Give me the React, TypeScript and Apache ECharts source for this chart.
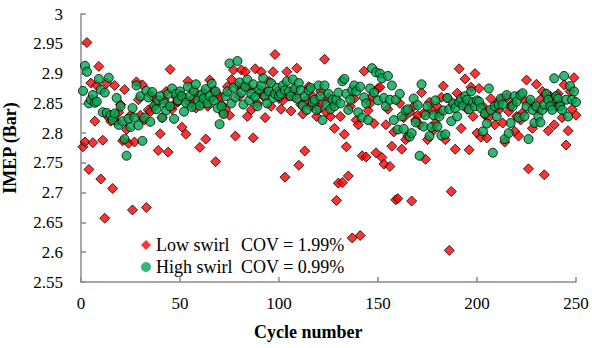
import React, { useEffect, useRef } from "react";
import * as echarts from "echarts";

const xTicks = [0, 50, 100, 150, 200, 250];
const yTicks = [2.55, 2.6, 2.65, 2.7, 2.75, 2.8, 2.85, 2.9, 2.95, 3];

const seriesNames = ["Low swirl", "High swirl"];
const covLabels = ["COV = 1.99%", "COV = 0.99%"];

// Low swirl IMEP, cycles 1..250
const lowSwirl = [
  2.777, 2.785, 2.952, 2.739, 2.884, 2.784, 2.820, 2.880, 2.912, 2.723,
  2.788, 2.657, 2.884, 2.826, 2.820, 2.707, 2.880, 2.820, 2.835, 2.848,
  2.787, 2.873, 2.806, 2.783, 2.830, 2.671, 2.785, 2.886, 2.856, 2.830,
  2.881, 2.822, 2.675, 2.839, 2.836, 2.862, 2.845, 2.850, 2.771, 2.799,
  2.826, 2.856, 2.870, 2.768, 2.907, 2.840, 2.848, 2.860, 2.852, 2.865,
  2.810, 2.860, 2.798, 2.887, 2.850, 2.856, 2.870, 2.842, 2.862, 2.776,
  2.850, 2.868, 2.790, 2.845, 2.889, 2.858, 2.872, 2.752, 2.865, 2.862,
  2.848, 2.833, 2.840, 2.878, 2.830, 2.890, 2.906, 2.795, 2.880, 2.862,
  2.906, 2.880, 2.903, 2.828, 2.875, 2.839, 2.792, 2.908, 2.850, 2.868,
  2.903, 2.862, 2.826, 2.870, 2.887, 2.845, 2.903, 2.932, 2.870, 2.858,
  2.840, 2.855, 2.726, 2.903, 2.862, 2.837, 2.872, 2.860, 2.909, 2.746,
  2.848, 2.832, 2.770, 2.856, 2.878, 2.845, 2.862, 2.850, 2.828, 2.840,
  2.870, 2.852, 2.924, 2.835, 2.860, 2.828, 2.846, 2.808, 2.687, 2.716,
  2.828, 2.717, 2.798, 2.777, 2.728, 2.845, 2.624, 2.858, 2.822, 2.814,
  2.628, 2.762, 2.904, 2.760, 2.838, 2.850, 2.862, 2.816, 2.767, 2.875,
  2.877, 2.759, 2.748, 2.814, 2.840, 2.744, 2.778, 2.802, 2.688, 2.690,
  2.850, 2.773, 2.826, 2.789, 2.795, 2.835, 2.686, 2.845, 2.822, 2.830,
  2.814, 2.868, 2.833, 2.756, 2.789, 2.852, 2.839, 2.805, 2.817, 2.845,
  2.834, 2.860, 2.879, 2.789, 2.859, 2.603, 2.702, 2.848, 2.773, 2.867,
  2.908, 2.808, 2.850, 2.891, 2.840, 2.772, 2.877, 2.828, 2.900, 2.800,
  2.875, 2.793, 2.845, 2.830, 2.792, 2.826, 2.858, 2.840, 2.814, 2.850,
  2.839, 2.856, 2.817, 2.785, 2.860, 2.836, 2.845, 2.850, 2.803, 2.828,
  2.795, 2.822, 2.834, 2.855, 2.889, 2.740, 2.850, 2.808, 2.845, 2.882,
  2.839, 2.856, 2.870, 2.730, 2.866, 2.804, 2.862, 2.856, 2.814, 2.845,
  2.866, 2.850, 2.826, 2.881, 2.780, 2.804, 2.870, 2.840, 2.893, 2.830,
];

// High swirl IMEP, cycles 1..250
const highSwirl = [
  2.871, 2.913, 2.903, 2.850, 2.856, 2.864, 2.851, 2.853, 2.891, 2.873,
  2.835, 2.868, 2.834, 2.893, 2.830, 2.822, 2.833, 2.859, 2.814, 2.845,
  2.820, 2.790, 2.762, 2.824, 2.810, 2.842, 2.826, 2.880, 2.813, 2.862,
  2.787, 2.826, 2.871, 2.860, 2.819, 2.869, 2.846, 2.840, 2.855, 2.862,
  2.826, 2.850, 2.838, 2.866, 2.845, 2.875, 2.824, 2.866, 2.855, 2.870,
  2.862, 2.836, 2.851, 2.878, 2.862, 2.844, 2.871, 2.882, 2.855, 2.846,
  2.865, 2.858, 2.874, 2.850, 2.862, 2.883, 2.855, 2.870, 2.842, 2.815,
  2.845, 2.832, 2.862, 2.870, 2.917, 2.850, 2.876, 2.860, 2.921, 2.885,
  2.868, 2.848, 2.878, 2.890, 2.855, 2.866, 2.882, 2.861, 2.845, 2.873,
  2.880, 2.892, 2.862, 2.850, 2.870, 2.884, 2.859, 2.866, 2.876, 2.862,
  2.866, 2.880, 2.872, 2.887, 2.870, 2.862, 2.890, 2.875, 2.858, 2.884,
  2.872, 2.846, 2.862, 2.839, 2.872, 2.876, 2.852, 2.856, 2.839, 2.880,
  2.862, 2.822, 2.880, 2.848, 2.866, 2.840, 2.856, 2.845, 2.856, 2.868,
  2.850, 2.887, 2.891, 2.866, 2.839, 2.856, 2.872, 2.880, 2.870, 2.835,
  2.878, 2.826, 2.860, 2.850, 2.822, 2.875, 2.909, 2.868, 2.902, 2.855,
  2.900, 2.892, 2.859, 2.845, 2.896, 2.856, 2.880, 2.822, 2.856, 2.806,
  2.866, 2.828, 2.807, 2.838, 2.840, 2.794, 2.800, 2.858, 2.818, 2.847,
  2.762, 2.882, 2.811, 2.830, 2.845, 2.795, 2.810, 2.830, 2.855, 2.811,
  2.828, 2.796, 2.838, 2.798, 2.859, 2.840, 2.820, 2.850, 2.842, 2.828,
  2.852, 2.858, 2.846, 2.862, 2.856, 2.840, 2.870, 2.852, 2.845, 2.855,
  2.853, 2.842, 2.803, 2.833, 2.816, 2.875, 2.839, 2.767, 2.845, 2.828,
  2.848, 2.858, 2.848, 2.790, 2.864, 2.800, 2.817, 2.845, 2.862, 2.853,
  2.826, 2.864, 2.867, 2.828, 2.845, 2.790, 2.856, 2.839, 2.817, 2.845,
  2.828, 2.818, 2.839, 2.848, 2.866, 2.856, 2.845, 2.839, 2.892, 2.862,
  2.858, 2.845, 2.839, 2.896, 2.856, 2.828, 2.879, 2.856, 2.870, 2.852,
];

const FONT = "'Liberation Serif', 'Times New Roman', serif";

export default function App() {
  const ref = useRef<HTMLDivElement>(null);

  useEffect(() => {
    if (!ref.current) return;
    document.body.style.margin = "0";
    const chart = echarts.init(ref.current, undefined, { renderer: "svg" });
    const lowData = lowSwirl.map((v, i) => [i + 1, v]);
    const highData = highSwirl.map((v, i) => [i + 1, v]);
    const axisLine = { show: true, lineStyle: { color: "#8a8a8a", width: 1.5 } };
    const axisTick = { show: true, inside: true, length: 5, lineStyle: { color: "#8a8a8a", width: 1.5 } };
    chart.setOption({
      animation: false,
      backgroundColor: "#ffffff",
      grid: { left: 81, right: 16, top: 14, bottom: 66, containLabel: false },
      xAxis: {
        type: "value",
        min: xTicks[0],
        max: xTicks[xTicks.length - 1],
        interval: 50,
        axisLine,
        axisTick,
        splitLine: { show: false },
        axisLabel: { fontFamily: FONT, fontSize: 17, color: "#000", margin: 13 },
      },
      yAxis: {
        type: "value",
        min: yTicks[0],
        max: yTicks[yTicks.length - 1],
        interval: 0.05,
        axisLine,
        axisTick,
        splitLine: { show: false },
        axisLabel: {
          fontFamily: FONT,
          fontSize: 17,
          color: "#000",
          margin: 18,
          formatter: (v: number) => String(parseFloat(v.toFixed(2))),
        },
      },
      legend: {
        orient: "vertical",
        left: 136,
        top: 231,
        itemWidth: 10,
        itemHeight: 10,
        itemGap: 4,
        itemStyle: { borderWidth: 0 },
        data: seriesNames,
        formatter: (name: string) => {
          const idx = seriesNames.indexOf(name);
          return `{n|${name}}{c|${covLabels[idx]}}`;
        },
        textStyle: {
          fontFamily: FONT,
          fontSize: 18,
          color: "#000",
          rich: {
            n: { fontFamily: FONT, fontSize: 18, width: 85, color: "#000" },
            c: { fontFamily: FONT, fontSize: 18, color: "#000" },
          },
        },
      },
      graphic: [
        {
          type: "text",
          left: 310 - 56,
          top: 323,
          style: { text: "Cycle number", font: `bold 18px ${FONT}`, fill: "#000" },
        },
        {
          type: "text",
          x: 10,
          y: 148,
          rotation: Math.PI / 2,
          style: {
            text: "IMEP (Bar)",
            font: `bold 18px ${FONT}`,
            fill: "#000",
            align: "center",
            verticalAlign: "middle",
          },
        },
      ],
      series: [
        {
          name: seriesNames[0],
          type: "scatter",
          symbol: "diamond",
          symbolSize: 10,
          data: lowData,
          itemStyle: { color: "#ff0000", borderColor: "#000", borderWidth: 1 },
        },
        {
          name: seriesNames[1],
          type: "scatter",
          symbol: "circle",
          symbolSize: 9,
          data: highData,
          itemStyle: { color: "#00a650", borderColor: "#000", borderWidth: 1 },
        },
      ],
    });
    return () => chart.dispose();
  }, []);

  return <div ref={ref} style={{ width: 592, height: 348, position: "fixed", left: 0, top: 0 }} />;
}
